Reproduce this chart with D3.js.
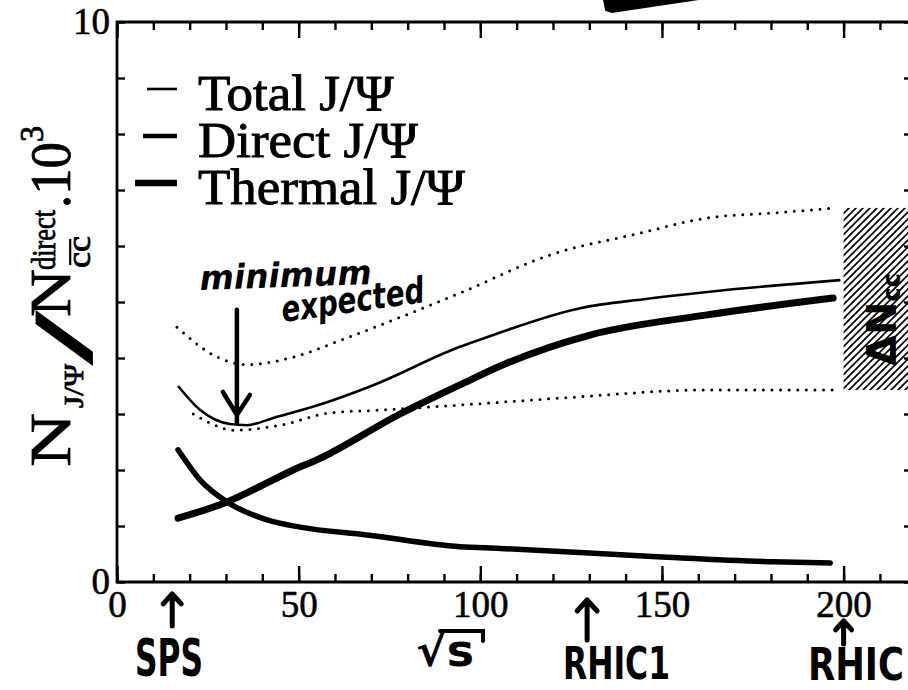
<!DOCTYPE html>
<html>
<head>
<meta charset="utf-8">
<script src="https://cdn.jsdelivr.net/npm/d3@7"></script>
<style>
  html, body { margin: 0; padding: 0; background: #fff; }
  svg { display: block; }
</style>
</head>
<body>
<svg id="chart" width="908" height="690"></svg>
<script>
// ---- data: sqrt(s) [GeV] and J/psi yield per direct c-cbar pair (x10^3) ----
const totalS   = [16.8, 22.9, 31.1, 35.8, 43.0, 55.0, 70.0, 94.4, 100.0, 127.5, 145.0, 162.4, 199.1];
const totalV   = [3.50, 3.07, 2.82, 2.80, 2.93, 3.15, 3.50, 4.20, 4.33, 4.89, 5.05, 5.18, 5.39];

const directS  = [16.8, 22.9, 30.3, 41.3, 50.4, 68.8, 94.4, 105.5, 148.7, 180.6, 196.3];
const directV  = [2.36, 1.82, 1.43, 1.11, 0.98, 0.84, 0.63, 0.60, 0.45, 0.36, 0.34];

const thermalS = [16.8, 30.3, 41.3, 48.5, 55.0, 77.9, 94.4, 107.4, 130.2, 162.4, 197.1];
const thermalV = [1.14, 1.43, 1.77, 2.00, 2.18, 3.00, 3.52, 3.91, 4.41, 4.77, 5.07];

// uncertainty band of the total yield (dotted)
const upperS   = [16.5, 27.5, 35.8, 47.6, 63.3, 81.5, 94.4, 119.2, 144.0, 162.4, 180.6, 198.2];
const upperV   = [4.55, 4.02, 3.88, 4.00, 4.36, 4.82, 5.16, 5.84, 6.23, 6.50, 6.59, 6.68];
const lowerS   = [21.0, 25.6, 31.9, 44.9, 58.6, 72.4, 94.4, 125.6, 162.4, 197.1];
const lowerV   = [3.00, 2.84, 2.71, 2.80, 3.02, 3.07, 3.16, 3.30, 3.43, 3.43];

// shaded range of the c-cbar normalisation uncertainty at RHIC
const bandS    = [200, 218];
const bandV    = [3.43, 6.68];

// axes
const xMinorTicks = d3.range(0, 220, 10);
const xMajorTicks = [0, 50, 100, 150, 200];
const yTicks      = d3.range(0, 11, 1);
const yTickLabels = [0, 10];

// legend
const legendNames = ["Total J/\u03A8", "Direct J/\u03A8", "Thermal J/\u03A8"];

// energy markers
const markerNames = ["SPS", "RHIC1", "RHIC"];
const markerS     = [15.2, 129.4, 200];

const serif = "'Liberation Serif', 'Times New Roman', serif";
const hand  = "'DejaVu Sans', sans-serif";
const ink   = "#000";

const svg = d3.select("#chart");
const x = d3.scaleLinear().domain([0, 218]).range([117, 909]);
const y = d3.scaleLinear().domain([0, 10]).range([582, 22]);

// ---- hatch pattern ----
const defs = svg.append("defs");
const pat = defs.append("pattern")
  .attr("id", "hatch").attr("patternUnits", "userSpaceOnUse")
  .attr("width", 7).attr("height", 7);
pat.append("path")
  .attr("d", "M-1,1 l2,-2 M0,7 l7,-7 M6,8 l2,-2")
  .attr("stroke", ink).attr("stroke-width", 1.7);

svg.append("rect")
  .attr("x", x(bandS[0])).attr("y", y(bandV[1]))
  .attr("width", x(bandS[1]) - x(bandS[0]))
  .attr("height", y(bandV[0]) - y(bandV[1]))
  .attr("fill", "url(#hatch)");

// ---- curves ----
const line = d3.line().x(d => x(d[0])).y(d => y(d[1])).curve(d3.curveMonotoneX);
const zip = (a, b) => a.map((v, i) => [v, b[i]]);

[zip(upperS, upperV), zip(lowerS, lowerV)].forEach(pts => {
  svg.append("path").datum(pts).attr("d", line)
    .attr("fill", "none").attr("stroke", ink).attr("stroke-width", 3)
    .attr("stroke-linecap", "round").attr("stroke-dasharray", "0 8.6");
});

svg.append("path").datum(zip(totalS, totalV)).attr("d", line)
  .attr("fill", "none").attr("stroke", ink).attr("stroke-width", 2.6)
  .attr("stroke-linejoin", "round");
svg.append("path").datum(zip(directS, directV)).attr("d", line)
  .attr("fill", "none").attr("stroke", ink).attr("stroke-width", 5.5)
  .attr("stroke-linecap", "round");
svg.append("path").datum(zip(thermalS, thermalV)).attr("d", line)
  .attr("fill", "none").attr("stroke", ink).attr("stroke-width", 7)
  .attr("stroke-linecap", "round");

// ---- axes ----
function styleAxis(g) {
  g.select(".domain").remove();
  g.selectAll(".tick line").attr("stroke", ink).attr("stroke-width", 2.4);
  g.selectAll(".tick text").attr("font-family", serif).attr("font-size", 37)
    .attr("fill", ink).attr("stroke", ink).attr("stroke-width", 0.6);
}
svg.append("g").attr("transform", `translate(0,${y(0)})`)
  .call(d3.axisBottom(x).tickValues(xMinorTicks).tickSize(-8).tickFormat("")).call(styleAxis);
svg.append("g").attr("transform", `translate(0,${y(0)})`)
  .call(d3.axisBottom(x).tickValues(xMajorTicks).tickSize(-16).tickPadding(9).tickFormat(d3.format("d")))
  .call(styleAxis);
svg.append("g").attr("transform", `translate(0,${y(10)})`)
  .call(d3.axisTop(x).tickValues(xMinorTicks).tickSize(-8).tickFormat("")).call(styleAxis);
svg.append("g").attr("transform", `translate(0,${y(10)})`)
  .call(d3.axisTop(x).tickValues(xMajorTicks).tickSize(-16).tickFormat("")).call(styleAxis);
svg.append("g").attr("transform", `translate(${x(0)},0)`)
  .call(d3.axisLeft(y).tickValues(yTicks).tickSize(-8).tickPadding(7)
    .tickFormat(d => yTickLabels.includes(d) ? d : "")).call(styleAxis);
svg.append("g").attr("transform", `translate(${x(218)},0)`)
  .call(d3.axisRight(y).tickValues(yTicks).tickSize(-5).tickFormat("")).call(styleAxis);

// frame
svg.append("path")
  .attr("d", `M${x(218)},${y(10)}H${x(0)}V${y(0)}H${x(218)}`)
  .attr("fill", "none").attr("stroke", ink).attr("stroke-width", 2.8);

// ---- legend ----
const legendW = [2.6, 4.5, 6.5];
const legendX0 = [147, 143, 135];
legendNames.forEach((name, i) => {
  const ly = 89 + i * 47;
  const base = ly + 21;
  svg.append("line").attr("x1", legendX0[i]).attr("x2", 177).attr("y1", ly).attr("y2", ly)
    .attr("stroke", ink).attr("stroke-width", legendW[i]);
  svg.append("text").attr("x", 198).attr("y", base)
    .attr("font-family", serif).attr("font-size", 42).attr("fill", ink)
    .attr("stroke", ink).attr("stroke-width", 0.75)
    .attr("transform", `translate(198,${base}) scale(1.26,1.19) translate(-198,${-base})`)
    .text(name);
});

// ---- y axis title (rotated, built piece by piece) ----
const yTitle = svg.append("g").attr("transform", "translate(70,467) rotate(-90)");
const titlePieces = [
  { t: "N",       at: 0,   len: 54, size: 58, base: 0 },
  { t: "J/\u03A8", at: 59,  len: 44, size: 28, base: 13 },
  { t: "/",       at: 104, len: 50, size: 84, base: 22, bold: true },
  { t: "N",       at: 150, len: 48, size: 58, base: 0 },
  { t: "direct",  at: 197, len: 60, size: 33, base: -15 },
  { t: "cc",      at: 199, len: 32, size: 33, base: 20, bar: true },
  { t: ".10",     at: 259, len: 66, size: 58, base: 0 },
  { t: "3",       at: 325, len: 16, size: 33, base: -27 }
];
titlePieces.forEach(p => {
  yTitle.append("text").attr("x", p.at).attr("y", p.base)
    .attr("font-family", serif).attr("font-size", p.size)
    .attr("font-weight", p.bold ? "bold" : "normal")
    .attr("textLength", p.len).attr("lengthAdjust", "spacingAndGlyphs")
    .attr("fill", ink).attr("stroke", ink).attr("stroke-width", 0.8)
    .text(p.t);
  if (p.bar) {
    yTitle.append("line").attr("x1", p.at + 3).attr("x2", p.at + p.len - 3)
      .attr("y1", p.base - p.size * 0.6).attr("y2", p.base - p.size * 0.6)
      .attr("stroke", ink).attr("stroke-width", 2.2);
  }
});

// ---- hand-written notes ----
function arrowUp(cx, top, bottom, arm) {
  svg.append("path")
    .attr("d", `M${cx},${bottom}V${top}M${cx - arm},${top + arm * 1.1}L${cx},${top}L${cx + arm},${top + arm * 1.1}`)
    .attr("fill", "none").attr("stroke", ink).attr("stroke-width", 5)
    .attr("stroke-linecap", "round").attr("stroke-linejoin", "round");
}
arrowUp(x(markerS[0]), 594, 626, 9);
arrowUp(x(markerS[1]), 600, 640, 10);
arrowUp(x(markerS[2]), 621, 644, 8);

const markerLayout = [
  { x: 135, y: 676, size: 52, len: 68, sy: 1 },
  { x: 563, y: 679, size: 44, len: 107, sy: 1 },
  { x: 808, y: 680, size: 35, len: 96, sy: 1.25 }
];
markerNames.forEach((name, i) => {
  const m = markerLayout[i];
  svg.append("text").attr("x", m.x).attr("y", m.y)
    .attr("font-family", hand).attr("font-weight", "bold").attr("font-size", m.size)
    .attr("textLength", m.len).attr("lengthAdjust", "spacingAndGlyphs")
    .attr("transform", `translate(0,${m.y}) scale(1,${m.sy}) translate(0,${-m.y})`)
    .attr("fill", ink).text(name);
});

// sqrt(s) under the axis
svg.append("text").attr("x", 416).attr("y", 666)
  .attr("font-family", hand).attr("font-weight", "bold").attr("font-size", 44)
  .attr("textLength", 58).attr("lengthAdjust", "spacingAndGlyphs")
  .attr("fill", ink).text("\u221As");
svg.append("path").attr("d", "M440,631H483V641")
  .attr("fill", "none").attr("stroke", ink).attr("stroke-width", 4).attr("stroke-linecap", "round");

// "minimum expected" with arrow to the minimum of the total yield
svg.append("text").attr("x", 200).attr("y", 290)
  .attr("font-family", hand).attr("font-weight", "bold").attr("font-style", "italic")
  .attr("font-size", 34).attr("textLength", 172).attr("lengthAdjust", "spacingAndGlyphs")
  .attr("transform", "rotate(-2,200,290)")
  .attr("fill", ink).text("minimum");
svg.append("text").attr("x", 283).attr("y", 322)
  .attr("font-family", hand).attr("font-weight", "bold").attr("font-style", "italic")
  .attr("font-size", 36).attr("textLength", 144).attr("lengthAdjust", "spacingAndGlyphs")
  .attr("transform", "rotate(-8,283,322)")
  .attr("fill", ink).text("expected");
const minS = 33, minTop = 4.86, minTip = 2.84;
svg.append("path")
  .attr("d", `M${x(minS)},${y(minTop)}V${y(minTip)}M${x(minS) - 14},${y(minTip) - 31}L${x(minS)},${y(minTip) - 8}L${x(minS) + 13},${y(minTip) - 28}`)
  .attr("fill", "none").attr("stroke", ink).attr("stroke-width", 4.5)
  .attr("stroke-linecap", "round").attr("stroke-linejoin", "round");

// label inside the hatched band
const dN = svg.append("text")
  .attr("transform", `translate(${x(bandS[0]) + 52},${y(bandV[0]) - 24}) rotate(-90)`)
  .attr("font-family", hand).attr("font-weight", "bold").attr("fill", ink);
dN.append("tspan").attr("font-size", 40).text("\u0394N");
dN.append("tspan").attr("font-size", 24).attr("dy", 4).text("cc");

// ink stroke at the top edge
const inkS = [133.6, 134.4, 136.2, 166.0];
const inkV = [10.45, 10.20, 10.16, 10.45];
svg.append("path")
  .attr("d", d3.line().x(d => x(d[0])).y(d => y(d[1])).curve(d3.curveLinearClosed)(zip(inkS, inkV)))
  .attr("fill", ink);
</script>
</body>
</html>
